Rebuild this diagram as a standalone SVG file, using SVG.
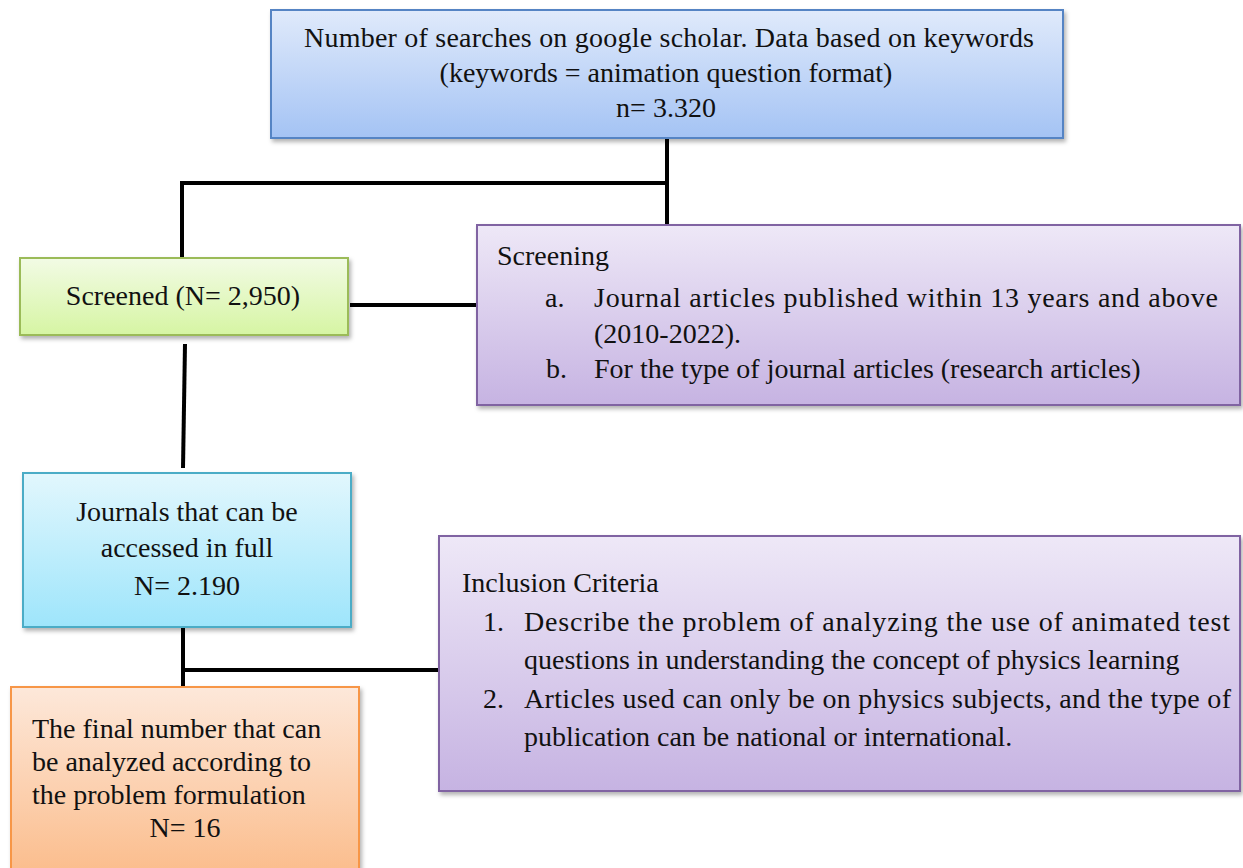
<svg xmlns="http://www.w3.org/2000/svg" width="1243" height="868" viewBox="0 0 1243 868">
<defs>
<linearGradient id="gBlue" x1="0" y1="0" x2="0" y2="1"><stop offset="0" stop-color="#e0eafb"/><stop offset="1" stop-color="#a4c3f4"/></linearGradient>
<linearGradient id="gGreen" x1="0" y1="0" x2="0" y2="1"><stop offset="0" stop-color="#f2fbe5"/><stop offset="1" stop-color="#d6f5a3"/></linearGradient>
<linearGradient id="gPurple" x1="0" y1="0" x2="0" y2="1"><stop offset="0" stop-color="#eee8f7"/><stop offset="1" stop-color="#c6b3e2"/></linearGradient>
<linearGradient id="gCyan" x1="0" y1="0" x2="0" y2="1"><stop offset="0" stop-color="#e2f7fd"/><stop offset="1" stop-color="#9ee5fb"/></linearGradient>
<linearGradient id="gOrange" x1="0" y1="0" x2="0" y2="1"><stop offset="0" stop-color="#fde8da"/><stop offset="1" stop-color="#fbbb89"/></linearGradient>
<filter id="sh" x="-5%" y="-5%" width="112%" height="120%"><feDropShadow dx="2" dy="3" stdDeviation="2" flood-color="#000" flood-opacity="0.3"/></filter>
</defs>
<style>
text{font-family:"Liberation Serif","Times New Roman",serif;font-size:28px;fill:#111;}
.c{text-anchor:middle;}
.box{stroke-width:2;filter:url(#sh);}
.conn{stroke:#000;stroke-width:4;fill:none;stroke-linecap:butt;}
</style>
<g id="connectors">
<path class="conn" d="M667 138 V225"/>
<path class="conn" d="M182 183 H669"/>
<path class="conn" d="M182 181 V258"/>
<path class="conn" d="M350 305 H477"/>
<path class="conn" d="M185 344 L183 468"/>
<path class="conn" d="M183 627 V687"/>
<path class="conn" d="M183 670 H439"/>
</g>
<g id="node-search">
<rect class="box" x="271" y="10" width="792" height="128" fill="url(#gBlue)" stroke="#5584c4"/>
<text class="c" x="669" y="47" textLength="730" lengthAdjust="spacing">Number of searches on google scholar. Data based on keywords</text>
<text class="c" x="666" y="82">(keywords = animation question format)</text>
<text class="c" x="666" y="117">n= 3.320</text>
</g>
<g id="node-screened">
<rect class="box" x="20" y="258" width="328" height="77" fill="url(#gGreen)" stroke="#9bbb59"/>
<text class="c" x="183" y="305">Screened (N= 2,950)</text>
</g>
<g id="node-screening">
<rect class="box" x="477" y="225" width="763" height="180" fill="url(#gPurple)" stroke="#8064a2"/>
<text x="497" y="265">Screening</text>
<text x="545" y="307">a.</text>
<text x="594" y="307" textLength="624" lengthAdjust="spacing">Journal articles published within 13 years and above</text>
<text x="594" y="343">(2010-2022).</text>
<text x="546" y="378">b.</text>
<text x="594" y="378">For the type of journal articles (research articles)</text>
</g>
<g id="node-journals">
<rect class="box" x="23" y="473" width="328" height="154" fill="url(#gCyan)" stroke="#4bacc6"/>
<text class="c" x="187" y="521">Journals that can be</text>
<text class="c" x="187" y="557">accessed in full</text>
<text class="c" x="187" y="595">N= 2.190</text>
</g>
<g id="node-inclusion">
<rect class="box" x="439" y="536" width="801" height="255" fill="url(#gPurple)" stroke="#8064a2"/>
<text x="462" y="592">Inclusion Criteria</text>
<text x="483" y="631">1.</text>
<text x="524" y="631" textLength="706" lengthAdjust="spacing">Describe the problem of analyzing the use of animated test</text>
<text x="524" y="669">questions in understanding the concept of physics learning</text>
<text x="483" y="708">2.</text>
<text x="524" y="708" textLength="707" lengthAdjust="spacing">Articles used can only be on physics subjects, and the type of</text>
<text x="524" y="746">publication can be national or international.</text>
</g>
<g id="node-final">
<rect class="box" x="11" y="687" width="348" height="195" fill="url(#gOrange)" stroke="#f79646"/>
<text x="32" y="738">The final number that can</text>
<text x="32" y="771">be analyzed according to</text>
<text x="32" y="804">the problem formulation</text>
<text class="c" x="185" y="837">N= 16</text>
</g>
</svg>
